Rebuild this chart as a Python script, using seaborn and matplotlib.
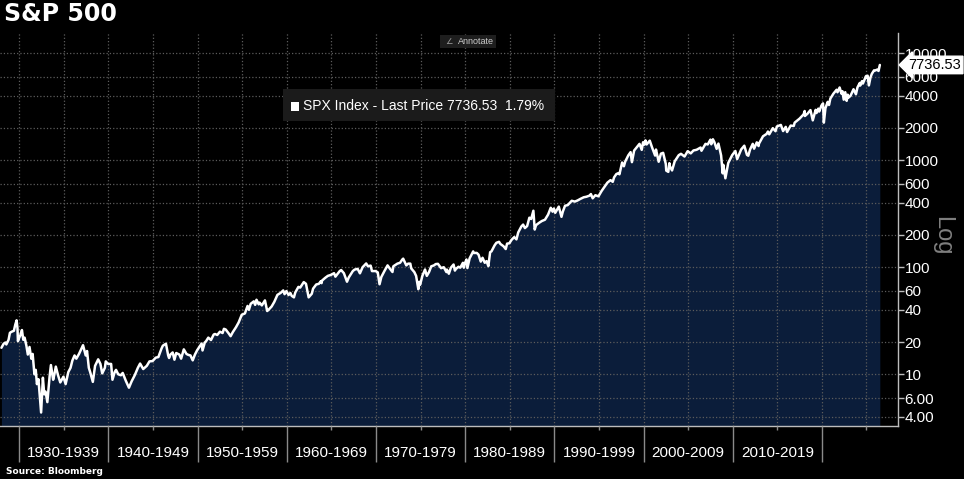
import matplotlib.pyplot as plt
import matplotlib.transforms as mtransforms
from matplotlib.patches import Rectangle
from matplotlib.ticker import NullLocator
import pandas as pd
import seaborn as sns

# S&P 500 level (fractional year, index level)
years = [
    1928.00, 1928.25, 1928.45, 1928.55, 1928.80, 1928.95, 1929.15, 1929.40, 1929.55, 1929.70,
    1929.80, 1929.85, 1929.95, 1930.15, 1930.30, 1930.45, 1930.60, 1930.80, 1930.96, 1931.15,
    1931.35, 1931.50, 1931.70, 1931.85, 1931.98, 1932.15, 1932.35, 1932.45, 1932.65, 1932.80,
    1932.95, 1933.15, 1933.40, 1933.55, 1933.80, 1933.95, 1934.10, 1934.35, 1934.60, 1934.95,
    1935.20, 1935.50, 1935.75, 1935.95, 1936.20, 1936.40, 1936.70, 1936.95, 1937.15, 1937.45,
    1937.60, 1937.80, 1937.95, 1938.25, 1938.50, 1938.85, 1939.10, 1939.30, 1939.60, 1939.70,
    1939.95, 1940.30, 1940.45, 1940.70, 1940.85, 1941.10, 1941.40, 1941.60, 1941.95, 1942.30,
    1942.60, 1942.95, 1943.30, 1943.55, 1943.90, 1944.30, 1944.60, 1944.95, 1945.30, 1945.60,
    1945.95, 1946.10, 1946.45, 1946.70, 1946.80, 1946.95, 1947.20, 1947.40, 1947.60, 1947.95,
    1948.15, 1948.45, 1948.75, 1948.95, 1949.20, 1949.45, 1949.70, 1949.95, 1950.45, 1950.55,
    1950.80, 1950.95, 1951.20, 1951.50, 1951.80, 1951.95, 1952.20, 1952.50, 1952.80, 1952.95,
    1953.15, 1953.50, 1953.70, 1953.95, 1954.30, 1954.60, 1954.95, 1955.30, 1955.60, 1955.75,
    1955.95, 1956.30, 1956.45, 1956.60, 1956.85, 1956.95, 1957.20, 1957.55, 1957.80, 1957.95,
    1958.30, 1958.60, 1958.95, 1959.30, 1959.60, 1959.75, 1959.95, 1960.20, 1960.40, 1960.55,
    1960.80, 1960.95, 1961.30, 1961.50, 1961.90, 1962.15, 1962.45, 1962.80, 1962.95, 1963.30,
    1963.60, 1963.80, 1963.90, 1963.95, 1964.30, 1964.60, 1964.95, 1965.30, 1965.45, 1965.95,
    1966.10, 1966.40, 1966.75, 1966.95, 1967.40, 1967.60, 1967.95, 1968.20, 1968.50, 1968.90,
    1969.10, 1969.40, 1969.55, 1969.95, 1970.20, 1970.40, 1970.60, 1970.95, 1971.30, 1971.60,
    1971.85, 1971.95, 1972.40, 1972.70, 1972.95, 1973.05, 1973.40, 1973.60, 1973.85, 1973.95,
    1974.30, 1974.50, 1974.75, 1974.85, 1974.95, 1975.20, 1975.50, 1975.70, 1975.95, 1976.20,
    1976.50, 1976.70, 1976.95, 1977.30, 1977.60, 1977.90, 1977.95, 1978.17, 1978.40, 1978.70,
    1978.85, 1978.95, 1979.25, 1979.45, 1979.75, 1979.85, 1979.95, 1980.15, 1980.25, 1980.50,
    1980.90, 1980.95, 1981.30, 1981.50, 1981.75, 1981.95, 1982.20, 1982.40, 1982.60, 1982.80,
    1982.95, 1983.30, 1983.50, 1983.80, 1983.95, 1984.30, 1984.55, 1984.70, 1984.95, 1985.20,
    1985.50, 1985.75, 1985.95, 1986.30, 1986.50, 1986.70, 1986.95, 1987.20, 1987.40, 1987.65,
    1987.80, 1987.95, 1988.30, 1988.60, 1988.95, 1989.30, 1989.60, 1989.80, 1989.95, 1990.10,
    1990.50, 1990.80, 1990.95, 1991.20, 1991.50, 1991.95, 1992.30, 1992.60, 1992.95, 1993.30,
    1993.60, 1993.95, 1994.10, 1994.30, 1994.60, 1994.95, 1995.30, 1995.60, 1995.95, 1996.30,
    1996.55, 1996.70, 1996.95, 1997.20, 1997.30, 1997.60, 1997.80, 1997.95, 1998.30, 1998.55,
    1998.70, 1998.95, 1999.30, 1999.55, 1999.80, 1999.95, 2000.10, 2000.22, 2000.35, 2000.70,
    2000.95, 2001.20, 2001.30, 2001.40, 2001.70, 2001.95, 2002.20, 2002.50, 2002.55, 2002.78,
    2002.90, 2002.95, 2003.20, 2003.50, 2003.95, 2004.20, 2004.60, 2004.95, 2005.30, 2005.60,
    2005.95, 2006.40, 2006.50, 2006.95, 2007.20, 2007.50, 2007.60, 2007.78, 2007.95, 2008.20,
    2008.40, 2008.70, 2008.88, 2008.95, 2009.18, 2009.50, 2009.95, 2010.30, 2010.50, 2010.95,
    2011.30, 2011.60, 2011.75, 2011.95, 2012.25, 2012.40, 2012.70, 2012.90, 2012.95, 2013.40,
    2013.80, 2013.95, 2014.10, 2014.50, 2014.80, 2014.95, 2015.40, 2015.65, 2015.95, 2016.10,
    2016.50, 2016.85, 2016.95, 2017.50, 2017.95, 2018.07, 2018.10, 2018.40, 2018.72, 2018.98,
    2019.30, 2019.40, 2019.60, 2019.70, 2019.95, 2020.13, 2020.22, 2020.40, 2020.65, 2020.80,
    2020.95, 2021.30, 2021.65, 2021.75, 2021.99, 2022.20, 2022.30, 2022.45, 2022.62, 2022.78,
    2022.90, 2022.99, 2023.20, 2023.55, 2023.82, 2023.99, 2024.25, 2024.30, 2024.50, 2024.60,
    2024.95, 2024.99, 2025.13, 2025.27, 2025.45, 2025.60, 2025.85, 2025.95, 2026.20, 2026.35,
    2026.50,
]
spx = [
    17.7, 19.3, 19.8, 19.0, 21.0, 24.4, 25.0, 25.5, 29.0, 31.9,
    27.0, 20.4, 21.5, 23.5, 25.9, 21.0, 22.0, 18.5, 15.3, 18.0,
    14.0, 15.5, 10.0, 11.0, 8.1, 9.0, 5.5, 4.4, 9.3, 6.5,
    6.9, 5.5, 9.5, 12.2, 8.9, 10.1, 11.8, 9.8, 8.4, 9.5,
    8.1, 10.5, 11.5, 13.4, 15.0, 14.0, 15.5, 17.2, 18.7, 15.0,
    16.5, 11.5, 10.5, 8.5, 12.0, 13.8, 12.5, 10.2, 11.5, 13.2,
    12.5, 12.5, 8.9, 10.5, 11.0, 10.0, 9.8, 10.3, 8.7, 7.5,
    8.6, 9.8, 11.5, 12.6, 11.2, 12.0, 13.2, 13.3, 14.3, 14.5,
    17.4, 18.5, 19.3, 15.0, 14.2, 15.3, 16.0, 13.7, 15.8, 15.3,
    14.0, 17.1, 15.5, 15.2, 15.0, 13.5, 15.3, 16.8, 19.4, 16.7,
    19.8, 20.4, 22.0, 20.9, 23.5, 23.8, 23.3, 25.0, 24.3, 26.6,
    26.2, 24.0, 22.7, 24.8, 27.5, 30.5, 36.0, 37.0, 43.5, 40.0,
    45.5, 48.0, 44.5, 49.7, 45.0, 46.7, 44.0, 49.0, 39.0, 40.0,
    43.0, 47.5, 55.2, 57.5, 60.7, 56.0, 59.9, 55.0, 57.5, 54.0,
    52.3, 58.1, 65.5, 64.5, 72.6, 70.0, 52.3, 56.5, 63.1, 69.0,
    70.0, 73.8, 71.0, 75.0, 79.5, 83.0, 84.8, 88.0, 81.6, 92.4,
    94.0, 88.0, 73.2, 80.3, 92.0, 95.0, 96.5, 87.7, 100.0, 108.4,
    102.0, 103.5, 92.0, 92.1, 89.5, 69.3, 81.0, 92.2, 104.0, 96.0,
    90.2, 102.1, 108.0, 110.0, 118.0, 120.2, 104.0, 108.0, 108.0, 97.5,
    90.0, 83.0, 62.3, 73.0, 68.6, 83.0, 95.2, 83.0, 90.2, 102.0,
    104.0, 107.0, 107.5, 98.0, 100.0, 90.0, 95.1, 86.9, 99.0, 106.0,
    93.0, 96.1, 101.0, 99.0, 110.0, 99.0, 107.9, 118.0, 98.2, 121.0,
    140.5, 135.8, 136.0, 131.0, 112.8, 122.5, 110.0, 114.0, 102.4, 138.0,
    140.6, 160.0, 169.0, 172.6, 164.9, 157.0, 147.8, 166.0, 167.2, 180.0,
    191.0, 182.0, 211.3, 240.0, 250.0, 232.0, 242.2, 290.0, 282.0, 336.8,
    224.8, 247.1, 260.0, 270.0, 277.7, 310.0, 359.0, 330.0, 353.4, 322.0,
    368.0, 295.5, 330.2, 375.0, 380.0, 417.1, 410.0, 420.0, 435.7, 450.0,
    455.0, 466.5, 482.0, 440.0, 470.0, 459.3, 515.0, 560.0, 615.9, 650.0,
    627.0, 690.0, 740.7, 757.0, 737.0, 950.0, 876.0, 970.4, 1110.0, 1186.8,
    957.3, 1229.2, 1335.0, 1418.0, 1247.0, 1469.3, 1394.0, 1527.5, 1400.0, 1520.0,
    1320.3, 1160.0, 1103.0, 1255.0, 965.8, 1148.1, 1170.0, 920.0, 797.7, 776.8,
    936.0, 879.8, 800.7, 975.0, 1111.9, 1145.0, 1080.0, 1211.9, 1156.0, 1230.0,
    1248.3, 1310.0, 1223.0, 1418.3, 1400.0, 1553.0, 1406.0, 1565.2, 1468.4, 1273.0,
    1426.0, 1106.0, 752.4, 903.3, 676.5, 940.0, 1115.1, 1217.0, 1022.6, 1257.6,
    1363.6, 1119.0, 1099.2, 1257.6, 1419.0, 1278.0, 1465.0, 1353.0, 1426.2, 1669.0,
    1756.0, 1848.4, 1741.0, 1987.0, 1862.0, 2058.9, 2130.8, 1867.6, 2043.9, 1829.1,
    2100.0, 2085.0, 2238.8, 2440.0, 2673.6, 2872.9, 2581.0, 2720.0, 2930.8, 2351.1,
    2945.0, 2750.0, 3025.0, 2840.0, 3230.8, 3386.2, 2237.4, 3050.0, 3500.0, 3270.0,
    3756.1, 4180.0, 4537.0, 4300.0, 4766.2, 4170.0, 4400.0, 3667.0, 4305.0, 3577.0,
    4080.0, 3839.5, 3970.0, 4588.0, 4117.4, 4769.8, 5254.0, 4967.0, 5460.0, 5186.0,
    6090.0, 5881.6, 6144.0, 4982.8, 5911.0, 6389.0, 6890.0, 6850.0, 7000.0, 6800.0,
    7736.53,
]

decade_starts = [1930, 1940, 1950, 1960, 1970, 1980, 1990, 2000, 2010, 2020]
decade_labels = ["1930-1939", "1940-1949", "1950-1959", "1960-1969", "1970-1979",
                 "1980-1989", "1990-1999", "2000-2009", "2010-2019"]
ytick_vals = [4, 6, 10, 20, 40, 60, 100, 200, 400, 600, 1000, 2000, 4000, 6000, 10000]
ytick_labels = ["4.00", "6.00", "10", "20", "40", "60", "100", "200", "400", "600",
                "1000", "2000", "4000", "6000", "10000"]
last_price = 7736.53
last_change = 1.79

sns.set_theme(style="dark", rc={
    "figure.facecolor": "black",
    "axes.facecolor": "black",
    "savefig.facecolor": "black",
})
plt.rcParams["font.family"] = ["Liberation Sans", "DejaVu Sans"]

fig = plt.figure(figsize=(9.64, 4.79), dpi=100)
ax = fig.add_axes([0.0, 0.1106, 0.9312, 0.8205])

df = pd.DataFrame({"year": years, "price": spx})
ax.fill_between(df["year"], df["price"], 1, color="#0b1d3a", lw=0, zorder=1)
sns.lineplot(data=df, x="year", y="price", ax=ax, color="white", lw=1.8,
             estimator=None, sort=False, zorder=3)

ax.set_yscale("log")
ax.set_ylim(3.29, 15375)
ax.set_xlim(1927.84, 2028.5)
ax.set_xlabel("")
ax.set_ylabel("")

# right-hand log axis
ax.yaxis.tick_right()
ax.set_yticks(ytick_vals, ytick_labels)
ax.yaxis.set_minor_locator(NullLocator())
ax.tick_params(axis="y", which="major", right=True, left=False, colors="#bdbdbd",
               labelcolor="white", labelsize=11, length=4, width=1, direction="out", pad=1)

# decade dividers below the axis, grid every five years
ax.set_xticks(decade_starts, [""] * len(decade_starts))
ax.set_xticks([d + 5 for d in decade_starts], minor=True)
ax.tick_params(axis="x", which="major", bottom=True, length=26, width=1,
               color="#8a8a8a", direction="out")
ax.tick_params(axis="x", which="minor", bottom=True, length=3, width=1,
               color="#8a8a8a", direction="out")
ax.grid(True, which="both", axis="x", ls=":", color="#5c5c5c", lw=0.9, zorder=2)
ax.grid(True, which="major", axis="y", ls=":", color="#5c5c5c", lw=0.9, zorder=2)
ax.set_axisbelow(False)

for side in ["left", "top"]:
    ax.spines[side].set_visible(False)
for side in ["right", "bottom"]:
    ax.spines[side].set_color("#bdbdbd")
    ax.spines[side].set_linewidth(1)

trans = mtransforms.blended_transform_factory(ax.transData, fig.transFigure)
for start, label in zip(decade_starts, decade_labels):
    ax.text(start + 5, 0.054, label, transform=trans, ha="center", va="center",
            color="white", fontsize=11)

# last price tag on the axis
tag_trans = mtransforms.blended_transform_factory(ax.transAxes, ax.transData)
ax.text(1.012, last_price, f"{last_price:.2f}", transform=tag_trans, ha="left", va="center",
        color="black", fontsize=10.5, clip_on=False, zorder=5,
        bbox=dict(boxstyle="larrow,pad=0.12", fc="white", ec="white"))

fig.text(0.977, 0.507, "Log", rotation=270, color="#7f7f7f", fontsize=17,
         ha="center", va="center")

# legend box
fig.add_artist(Rectangle((0.2936, 0.7474), 0.282, 0.0668, transform=fig.transFigure,
                         fc="#1b1b1b", ec="none"))
fig.add_artist(Rectangle((291 / 964, 1 - 111 / 479), 8 / 964, 9 / 479,
                         transform=fig.transFigure, fc="white", ec="none"))
fig.text(303 / 964, 1 - 106 / 479,
         f"SPX Index - Last Price {last_price:.2f}  {last_change:.2f}%",
         color="white", fontsize=10, ha="left", va="center")

# annotate button
fig.add_artist(Rectangle((440 / 964, 1 - 48 / 479), 56 / 964, 13 / 479,
                         transform=fig.transFigure, fc="#1e1e1e", ec="none"))
fig.text(449 / 964, 1 - 41.5 / 479, "\u2220", color="#999999", fontsize=6,
         ha="center", va="center", family="DejaVu Sans")
fig.text(458 / 964, 1 - 41.5 / 479, "Annotate", color="#cccccc", fontsize=6.5,
         ha="left", va="center")

fig.text(0.004, 1 - 14 / 479, "S&P 500", color="white", fontsize=17,
         fontweight="bold", family="DejaVu Sans", ha="left", va="center")
fig.text(0.006, 1 - 471 / 479, "Source: Bloomberg", color="white", fontsize=6.5,
         fontweight="bold", family="DejaVu Sans", ha="left", va="center")

fig.savefig("out.png", dpi=100, facecolor="black")
